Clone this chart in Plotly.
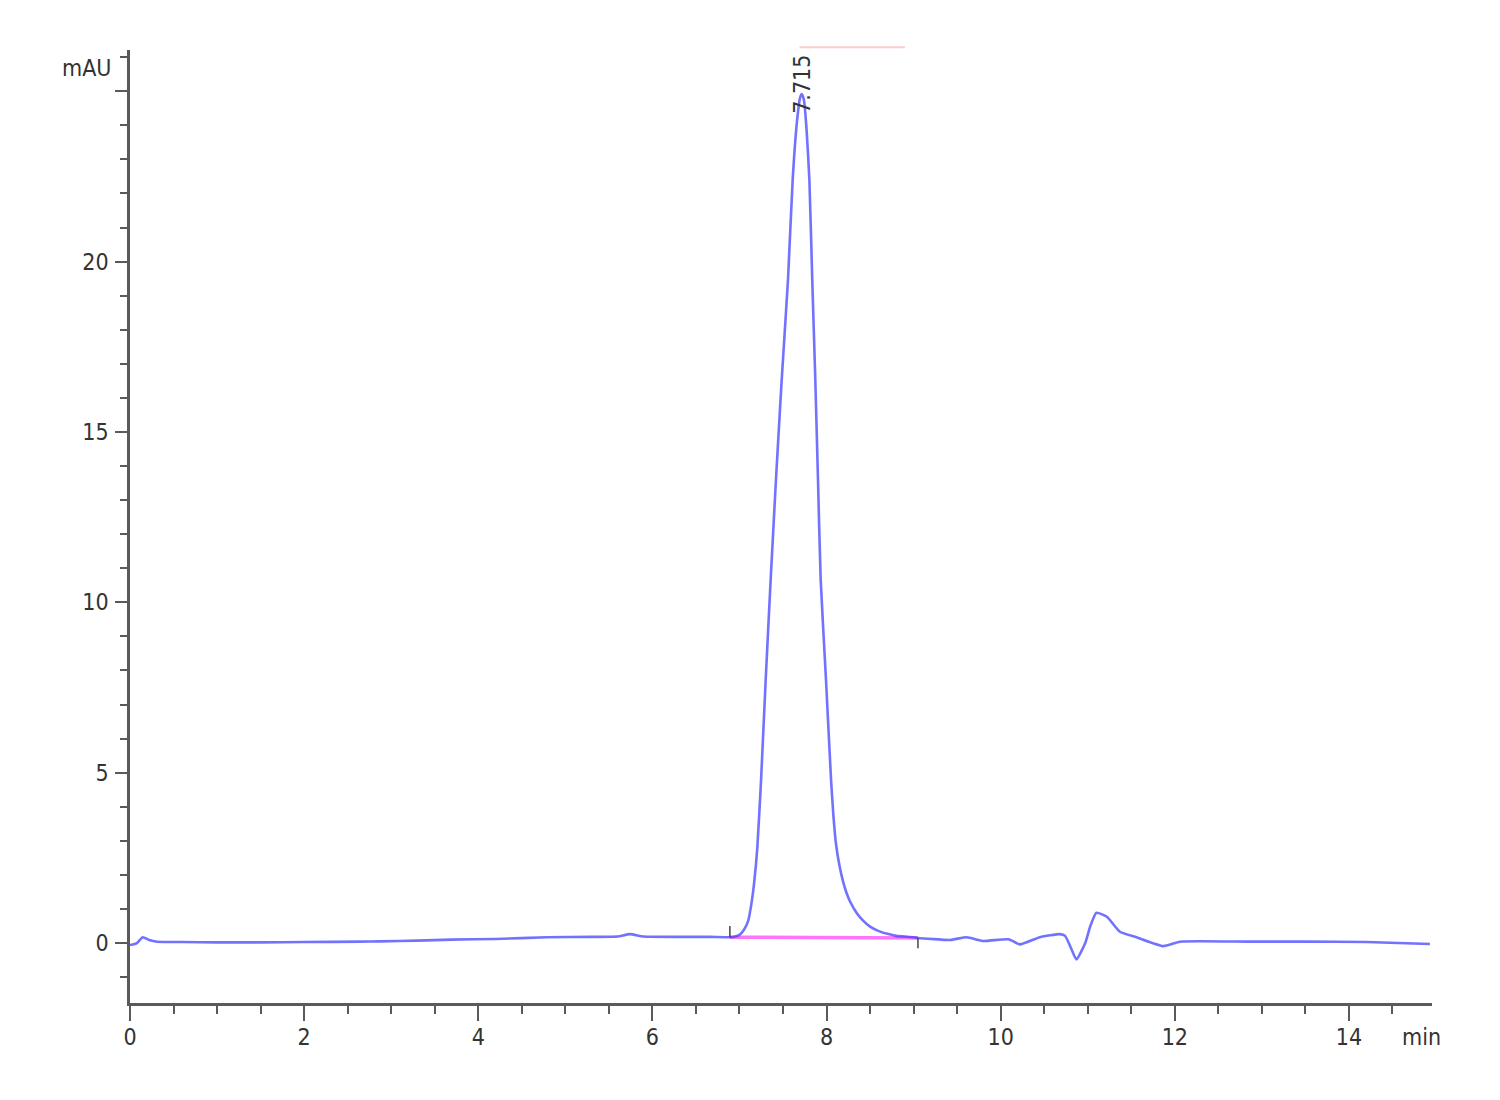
import plotly.graph_objects as go

# Chromatogram signal (min, mAU)
time_min = [0.0, 0.08, 0.146, 0.22, 0.31, 0.6, 1.0, 1.5, 2.0, 2.64, 2.87, 3.3, 3.69, 4.2,
            4.79, 5.3, 5.6, 5.74, 5.9, 6.3, 6.66, 6.89, 6.95, 7.0, 7.05, 7.10, 7.14, 7.17, 7.205,
            7.248, 7.301, 7.358, 7.419, 7.485, 7.557, 7.611, 7.66, 7.695, 7.715, 7.74, 7.77,
            7.803, 7.836, 7.871, 7.902, 7.933, 7.994, 8.052, 8.08, 8.109, 8.15, 8.19, 8.23,
            8.27, 8.35, 8.42, 8.50, 8.60, 8.70, 8.80, 9.0, 9.05, 9.42, 9.61, 9.80, 10.09, 10.22,
            10.45, 10.68, 10.74, 10.80, 10.87, 10.97, 11.03, 11.10, 11.22, 11.37, 11.56, 11.87,
            12.06, 12.86, 13.5, 14.2, 14.93]
signal_mau = [-0.06, 0.0, 0.17, 0.09, 0.04, 0.03, 0.02, 0.02, 0.03, 0.04, 0.05, 0.07, 0.10, 0.12,
              0.17, 0.18, 0.19, 0.26, 0.19, 0.18, 0.18, 0.17, 0.19, 0.24, 0.38, 0.65, 1.2, 1.8, 2.8,
              4.78, 7.72, 10.65, 13.59, 16.53, 19.46, 22.40, 24.1, 24.8, 24.92, 24.75, 23.9,
              22.40, 19.46, 16.53, 13.59, 10.65, 7.72, 4.78, 3.7, 2.9, 2.25, 1.8, 1.47,
              1.22, 0.87, 0.66, 0.48, 0.35, 0.27, 0.21, 0.17, 0.15, 0.09, 0.17, 0.06, 0.11, -0.04,
              0.17, 0.26, 0.21, -0.1, -0.48, -0.01, 0.5, 0.89, 0.77, 0.33, 0.17, -0.09,
              0.04, 0.04, 0.04, 0.03, -0.03]

# Integration baseline of the peak
baseline_x = [6.89, 9.05]
baseline_y = [0.17, 0.15]
# Peak start / end markers
start_tick_x = [6.89, 6.89]
start_tick_y = [0.17, 0.50]
end_tick_x = [9.05, 9.05]
end_tick_y = [0.15, -0.15]
# Peak label
peak_rt = 7.715
peak_label = "7.715"
# Peak bar at top
top_bar_x = [7.69, 8.90]

x_tickvals = [0, 2, 4, 6, 8, 10, 12, 14]
x_ticktext = ["0", "2", "4", "6", "8", "10", "12", "14"]
y_tickvals = [0, 5, 10, 15, 20, 25]
y_ticktext = ["0", "5", "10", "15", "20", ""]

FONT = "DejaVu Sans Condensed, Liberation Sans Narrow, Liberation Sans, Arial, sans-serif"
AXIS = "#5a5a5a"

fig = go.Figure()
fig.add_trace(go.Scatter(x=baseline_x, y=baseline_y, mode="lines",
                         line=dict(color="rgba(255,70,255,0.75)", width=3.5),
                         hoverinfo="skip"))
fig.add_trace(go.Scatter(x=time_min, y=signal_mau, mode="lines",
                         line=dict(color="rgba(60,60,255,0.72)", width=2.6,
                                   shape="spline", smoothing=0.5),
                         hoverinfo="x+y"))
fig.add_trace(go.Scatter(x=start_tick_x, y=start_tick_y, mode="lines",
                         line=dict(color="#444444", width=1.5), hoverinfo="skip"))
fig.add_trace(go.Scatter(x=end_tick_x, y=end_tick_y, mode="lines",
                         line=dict(color="#444444", width=1.5), hoverinfo="skip"))

fig.add_shape(type="line", xref="x", yref="paper", x0=top_bar_x[0], x1=top_bar_x[1],
              y0=1.003, y1=1.003, line=dict(color="#ffcccc", width=2))

fig.add_annotation(x=peak_rt, y=25.21, xref="x", yref="y", text=peak_label,
                   textangle=-90, showarrow=False, xanchor="center", yanchor="middle",
                   font=dict(family=FONT, size=23, color="#333333"))
fig.add_annotation(x=-0.013, y=0.981, xref="paper", yref="paper", text="mAU",
                   showarrow=False, xanchor="right", yanchor="middle",
                   font=dict(family=FONT, size=23, color="#333333"))
fig.add_annotation(x=0.9755, y=-0.0357, xref="paper", yref="paper", text="min",
                   showarrow=False, xanchor="left", yanchor="middle",
                   font=dict(family=FONT, size=23, color="#333333"))

fig.update_layout(
    width=1492, height=1092,
    margin=dict(l=122, r=68, t=42, b=97, autoexpand=False),
    paper_bgcolor="white", plot_bgcolor="white",
    showlegend=False,
    font=dict(family=FONT, size=23, color="#333333"),
    xaxis=dict(range=[0, 14.954], showgrid=False, zeroline=False,
               showline=True, linecolor=AXIS, linewidth=2.5,
               tickmode="array", tickvals=x_tickvals, ticktext=x_ticktext,
               ticks="outside", ticklen=15, tickwidth=2, tickcolor=AXIS,
               ticklabelstandoff=-3,
               minor=dict(dtick=0.5, tick0=0, ticks="outside", ticklen=8,
                          tickwidth=2, tickcolor=AXIS, showgrid=False)),
    yaxis=dict(range=[-1.76, 26.21], showgrid=False, zeroline=False,
               showline=True, linecolor=AXIS, linewidth=2.5,
               tickmode="array", tickvals=y_tickvals, ticktext=y_ticktext,
               ticks="outside", ticklen=12, tickwidth=2, tickcolor=AXIS,
               ticklabelstandoff=2,
               minor=dict(dtick=1, tick0=0, ticks="outside", ticklen=7,
                          tickwidth=2, tickcolor=AXIS, showgrid=False)),
)

fig.write_html("out.html")
